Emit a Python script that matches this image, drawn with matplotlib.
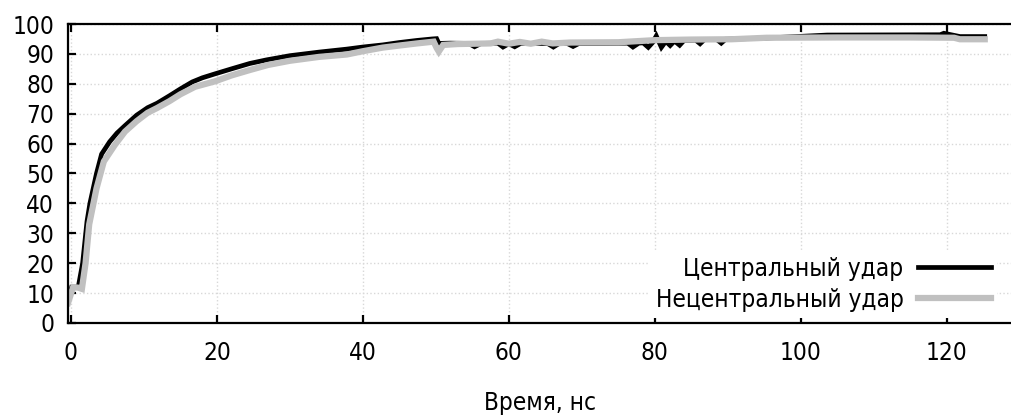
import matplotlib.pyplot as plt

# central impact
t_c = [-0.4, 0.1, 1.0, 1.6, 2.2, 2.6, 3.5, 4.2, 5.3, 6.3, 7.4, 9.0, 10.5, 11.8,
       13.5, 15.0, 16.6, 18.0, 19.7, 22.0, 24.5, 26.8, 30.0, 34.0, 37.8, 40.0,
       42.7, 45.0, 47.4, 49.5, 50.1, 50.4, 52.0, 54.5, 55.3, 56.2, 58.5, 59.2,
       60.0, 60.8, 61.6, 65.3, 66.1, 66.9, 68.0, 68.8, 69.6, 76.3, 77.0, 77.8,
       78.4, 79.1, 79.7, 80.2, 80.9, 81.5, 82.1, 82.7, 83.4, 84.0, 85.6, 86.2,
       86.8, 88.5, 89.1, 89.7, 95.3, 103.6, 119.1, 119.6, 121.8, 125.2]
v_c = [7.0, 12.0, 12.0, 20.0, 34.0, 40.0, 50.0, 56.5, 60.6, 63.5, 66.0, 69.5,
       72.0, 73.5, 76.0, 78.3, 80.6, 82.0, 83.3, 85.0, 86.8, 88.0, 89.4, 90.6,
       91.6, 92.3, 93.0, 93.8, 94.5, 95.0, 95.1, 93.5, 93.6, 93.5, 92.4, 93.5,
       93.6, 92.3, 93.4, 92.4, 93.5, 93.5, 92.3, 93.5, 93.5, 92.5, 93.5, 93.6,
       92.3, 93.6, 93.7, 92.2, 93.8, 96.0, 92.2, 94.2, 92.8, 94.3, 92.9, 94.5,
       94.6, 93.4, 94.8, 94.8, 93.6, 94.9, 95.3, 96.3, 96.4, 96.9, 95.8, 95.8]

# off-centre impact
t_n = [-0.4, 0.3, 1.0, 1.5, 2.0, 2.5, 3.5, 4.5, 6.0, 7.4, 9.0, 10.5, 11.8, 13.5,
       15.0, 17.0, 19.7, 22.0, 24.5, 27.0, 30.0, 34.0, 37.8, 40.0, 42.7, 45.0,
       47.4, 49.7, 50.1, 50.4, 51.0, 53.0, 57.5, 58.5, 60.0, 61.5, 63.0, 64.5,
       66.0, 68.4, 75.0, 80.0, 85.0, 90.5, 95.3, 105.0, 115.0, 121.0, 121.8,
       125.2]
v_n = [6.7, 12.0, 11.8, 11.4, 20.0, 33.0, 45.0, 54.0, 59.5, 64.0, 67.5, 70.3,
       71.9, 74.2, 76.5, 79.0, 80.8, 82.8, 84.6, 86.3, 87.7, 89.0, 89.8, 90.9,
       92.1, 92.8, 93.5, 94.1, 92.0, 90.8, 93.0, 93.3, 93.5, 94.1, 93.4, 94.0,
       93.4, 94.1, 93.5, 93.8, 93.9, 94.6, 94.8, 94.9, 95.4, 95.5, 95.5, 95.4,
       94.9, 94.9]

labels = ['Центральный удар', 'Нецентральный удар']
colors = ['black', '#c0c0c0']

plt.rcParams['font.family'] = 'DejaVu Sans'
plt.rcParams['font.stretch'] = 'condensed'
fig = plt.figure(figsize=(10.11, 4.16), dpi=100)
ax = fig.add_axes([0.0673, 0.2236, 0.9327, 0.7187])

ax.plot(t_c, v_c, color=colors[0], lw=3.4, label=labels[0], solid_joinstyle='miter')
ax.plot(t_n, v_n, color=colors[1], lw=4.5, label=labels[1], solid_joinstyle='miter')

ax.set_xlim(-0.4, 128.8)
ax.set_ylim(0, 100)
ax.set_xticks(range(0, 121, 20))
ax.set_yticks(range(0, 101, 10))
ax.grid(True, color='#d8d8d8', ls=':', lw=1.0)
ax.set_axisbelow(True)

for side in ['left', 'top', 'bottom']:
    ax.spines[side].set_linewidth(1.6)
ax.spines['right'].set_visible(False)
ax.tick_params(axis='both', direction='in', length=6, width=1.6, labelsize=17.5)
ax.tick_params(axis='x', top=True, pad=13)
ax.tick_params(axis='y', pad=10)

ax.set_xlabel('Время, нс', fontsize=17.5, labelpad=19)

leg = ax.legend(loc='lower right', bbox_to_anchor=(0.998, -0.023), markerfirst=False,
                fontsize=17.5, frameon=True, framealpha=1, edgecolor='none',
                facecolor='white', fancybox=False, handlelength=3.0,
                handletextpad=0.6, labelspacing=0.28, borderpad=0.25)
# keep the white legend box under the axis line
leg.set_zorder(2.4)

fig.savefig('out.png', dpi=100)
